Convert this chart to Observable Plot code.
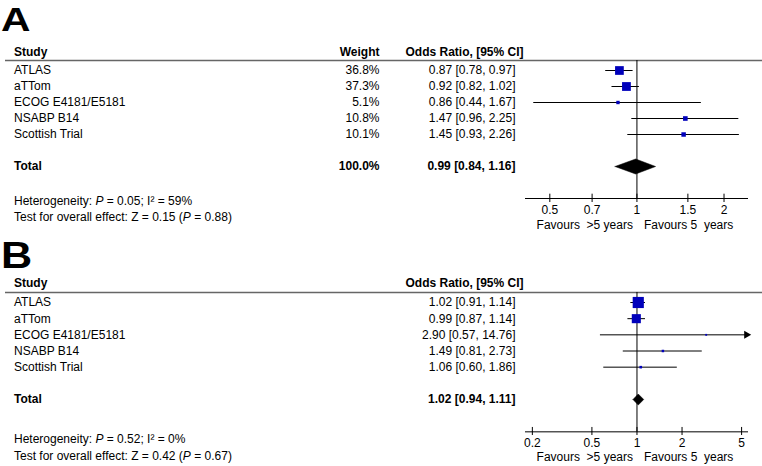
<!DOCTYPE html>
<html><head><meta charset="utf-8">
<script src="https://cdn.jsdelivr.net/npm/d3@7"></script>
<script src="https://cdn.jsdelivr.net/npm/@observablehq/plot@0.6"></script>
<style>
body{margin:0;background:#fff;font-family:Arial,"Liberation Sans",sans-serif;}
#wrap{position:relative;width:762px;height:466px;overflow:hidden;background:#fff}
.letter{position:absolute;left:1px;font-weight:bold;line-height:1;transform:scaleX(1.2);transform-origin:left top;color:#000}
.panel{position:absolute;left:0}
svg text{white-space:pre}
</style></head><body><div id="wrap"></div>
<script>
// ---- data ----
const studies = ["ATLAS", "aTTom", "ECOG E4181/E5181", "NSABP B14", "Scottish Trial"];

// Panel A
const weightA = [36.8, 37.3, 5.1, 10.8, 10.1];
const orA = [0.87, 0.92, 0.86, 1.47, 1.45];
const loA = [0.78, 0.82, 0.44, 0.96, 0.93];
const hiA = [0.97, 1.02, 1.67, 2.25, 2.26];
const totalA = [0.99, 0.84, 1.16];
const totalWeightA = 100.0;
const hetA = "Heterogeneity: P = 0.05; I² = 59%";
const effA = "Test for overall effect: Z = 0.15 (P = 0.88)";
const ticksA = [0.5, 0.7, 1, 1.5, 2];

// Panel B (weights not printed)
const weightB = [56.0, 39.4, 0.3, 1.9, 2.2];
const orB = [1.02, 0.99, 2.90, 1.49, 1.06];
const loB = [0.91, 0.87, 0.57, 0.81, 0.60];
const hiB = [1.14, 1.14, 14.76, 2.73, 1.86];
const totalB = [1.02, 0.94, 1.11];
const hetB = "Heterogeneity: P = 0.52; I² = 0%";
const effB = "Test for overall effect: Z = 0.42 (P = 0.67)";
const ticksB = [0.2, 0.5, 1, 2, 5];

const favourLeft = "Favours  >5 years";
const favourRight = "Favours 5  years";

// ---- drawing ----
const fmt = (o, l, h) => `${o.toFixed(2)} [${l.toFixed(2)}, ${h.toFixed(2)}]`;
const FONT = "Arial, 'Liberation Sans', sans-serif";

function italicP(svg) {
  d3.select(svg).selectAll("text").each(function () {
    const t = this.textContent;
    if (!/P = /.test(t) || this.childElementCount > 0) return;
    const parts = t.split(/(P)(?= =)/);
    const sel = d3.select(this);
    sel.text("");
    parts.forEach(p => {
      if (!p) return;
      const ts = sel.append("tspan").text(p);
      if (p === "P") ts.attr("font-style", "italic");
    });
  });
}

function panel(cfg) {
  const {or, lo, hi, w, total, totalWeight, domain, ticks, het, eff, L, height, yRange, diamondH} = cfg;
  const rows = studies.map((s, i) => ({
    study: s, row: i, or: or[i], lo: lo[i], hi: hi[i], w: w[i],
    label: fmt(or[i], lo[i], hi[i]), wl: w[i].toFixed(1) + "%"
  }));
  const TOTAL = 6, AXIS = 8;
  const LEFT = -511.5;          // study column start (relative to frame left)
  const WCOL = -146;            // weight column right edge
  const ORCOL = -10;            // odds ratio column right edge
  const diamond = [
    {x: total[1], y: TOTAL}, {x: total[0], y: TOTAL - diamondH},
    {x: total[2], y: TOTAL}, {x: total[0], y: TOTAL + diamondH},
    {x: total[1], y: TOTAL}
  ];
  const over = rows.filter(d => d.hi > domain[1]);
  const marks = [
    // header underline spanning full width
    Plot.ruleY([L.line], {insetLeft: -520, insetRight: -14, stroke: "#666", strokeWidth: 1.5}),
    // reference line at OR = 1
    Plot.ruleX([1], {y1: L.line, y2: AXIS, stroke: "#000"}),
    // axis line and upward tick halves
    Plot.ruleY([AXIS], {x1: domain[0], x2: domain[1], stroke: "#000"}),
    Plot.ruleX(ticks, {x: d => d, y1: AXIS - 0.27, y2: AXIS, stroke: "#000"}),
    // confidence intervals
    Plot.ruleY(rows, {y: "row", x1: "lo", x2: d => Math.min(d.hi, domain[1]), stroke: "#000"}),
    Plot.dot(over, {x: () => domain[1], y: "row", dx: -2, symbol: "triangle", rotate: 90, r: 3, fill: "#000", stroke: null}),
    // study boxes
    Plot.dot(rows, {x: "or", y: "row", r: "w", symbol: "square", fill: "#0000bb", stroke: null}),
    // pooled diamond
    Plot.line(diamond, {x: "x", y: "y", fill: "#000", stroke: "#000", strokeWidth: 0.5}),
    // headers
    Plot.text(["Study"], {text: d => d, y: () => L.head, frameAnchor: "left", dx: LEFT, textAnchor: "start", fontWeight: "bold"}),
    Plot.text(["Odds Ratio, [95% CI]"], {text: d => d, y: () => L.head, frameAnchor: "left", dx: -2, textAnchor: "end", fontWeight: "bold"}),
    // study rows
    Plot.text(rows, {text: "study", y: "row", frameAnchor: "left", dx: LEFT, textAnchor: "start"}),
    Plot.text(rows, {text: "label", y: "row", frameAnchor: "left", dx: ORCOL, textAnchor: "end"}),
    // total row
    Plot.text(["Total"], {text: d => d, y: () => TOTAL, frameAnchor: "left", dx: LEFT, textAnchor: "start", fontWeight: "bold"}),
    Plot.text([fmt(total[0], total[1], total[2])], {text: d => d, y: () => TOTAL, frameAnchor: "left", dx: ORCOL, textAnchor: "end", fontWeight: "bold"}),
    // footnotes
    Plot.text([het], {text: d => d, y: () => L.foot1, frameAnchor: "left", dx: LEFT, textAnchor: "start"}),
    Plot.text([eff], {text: d => d, y: () => L.foot2, frameAnchor: "left", dx: LEFT, textAnchor: "start"}),
    // favours labels
    Plot.text([favourLeft], {text: d => d, x: () => 1, y: () => L.fav, dx: -4, textAnchor: "end"}),
    Plot.text([favourRight], {text: d => d, x: () => 1, y: () => L.fav, dx: 7, textAnchor: "start"})
  ];
  if (totalWeight != null) {
    marks.push(
      Plot.text(["Weight"], {text: d => d, y: () => L.head, frameAnchor: "left", dx: WCOL, textAnchor: "end", fontWeight: "bold"}),
      Plot.text(rows, {text: "wl", y: "row", frameAnchor: "left", dx: WCOL, textAnchor: "end"}),
      Plot.text([totalWeight.toFixed(1) + "%"], {text: d => d, y: () => TOTAL, frameAnchor: "left", dx: WCOL, textAnchor: "end", fontWeight: "bold"})
    );
  }
  const svg = Plot.plot({
    width: 762, height,
    marginLeft: 525, marginRight: 14, marginTop: 0, marginBottom: height - cfg.axisY,
    style: {fontFamily: FONT, fontSize: "12px", color: "#000", background: "transparent", overflow: "visible"},
    x: {type: "log", domain, ticks, tickFormat: d => String(d), tickSize: 4, tickPadding: 3, label: null},
    y: {domain: [0, 6], range: yRange, axis: null},
    r: {type: "pow", exponent: 0.7, domain: [0, 100], range: [0.9, 9.0]},
    marks
  });
  italicP(svg);
  return svg;
}

const wrap = document.getElementById("wrap");

const svgA = panel({
  or: orA, lo: loA, hi: hiA, w: weightA, total: totalA, totalWeight: totalWeightA,
  domain: [0.412, 2.43], ticks: ticksA, het: hetA, eff: effA,
  height: 232, axisY: 198, yRange: [70, 166], diamondH: 0.47,
  L: {head: -1.125, line: -0.625, foot1: 8.19, foot2: 9.19, fav: 9.66}
});
const dA = document.createElement("div"); dA.className = "panel"; dA.style.top = "0px"; dA.appendChild(svgA);
wrap.appendChild(dA);

const svgB = panel({
  or: orB, lo: loB, hi: hiB, w: weightB, total: totalB, totalWeight: null,
  domain: [0.18, 5.56], ticks: ticksB, het: hetB, eff: effB,
  height: 234, axisY: 199, yRange: [70, 167], diamondH: 0.34,
  L: {head: -1.17, line: -0.62, foot1: 8.47, foot2: 9.52, fav: 9.59}
});
const dB = document.createElement("div"); dB.className = "panel"; dB.style.top = "232px"; dB.appendChild(svgB);
wrap.appendChild(dB);

const la = document.createElement("div"); la.className = "letter"; la.textContent = "A";
la.style.fontSize = "34px"; la.style.top = "2px"; wrap.appendChild(la);
const lb = document.createElement("div"); lb.className = "letter"; lb.textContent = "B";
lb.style.fontSize = "36px"; lb.style.top = "238px"; wrap.appendChild(lb);
</script></body></html>
